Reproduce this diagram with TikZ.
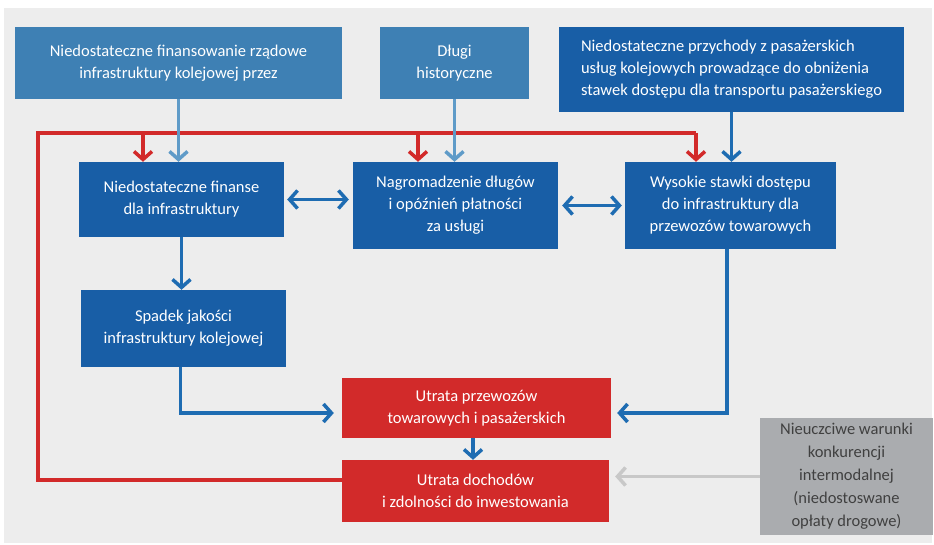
\documentclass[tikz,border=0pt]{standalone}
\usepackage{fontspec}
\setmainfont{Carlito}
\usepackage{tikz}
\usetikzlibrary{calc,arrows,arrows.meta}
\definecolor{bgcol}{RGB}{237,237,237}
\definecolor{lblue}{RGB}{62,128,180}
\definecolor{dblue}{RGB}{24,94,166}
\definecolor{rred}{RGB}{210,42,42}
\definecolor{gbox}{RGB}{170,172,175}
\definecolor{ablue}{RGB}{30,108,178}
\definecolor{alblue}{RGB}{95,155,200}
\definecolor{agrey}{RGB}{200,200,200}
\tikzset{
  box/.style={rectangle,inner sep=4pt,text=white,align=center,font=\fontsize{16.5}{22}\selectfont},
  tip/.style={-{Straight Barb[length=8pt,width=18pt]}},
  bline/.style={tip,draw=ablue,line width=3.5pt},
  lbline/.style={tip,draw=alblue,line width=3.5pt},
  rline/.style={draw=rred,line width=3.5pt}
}
\begin{document}
\begin{tikzpicture}[x=1pt,y=-1pt]
              \useasboundingbox (0,0) rectangle (934,545);
              \fill[bgcol] (4,8) rectangle (932,543);
              \node[box,fill=lblue,minimum width=327pt,minimum height=72pt](b1)at(178.5,63){Niedostateczne finansowanie rządowe\\infrastruktury kolejowej przez};
              \node[box,fill=lblue,minimum width=149pt,minimum height=72pt](b2)at(454.5,63){Długi\\historyczne};
              \node[box,fill=dblue,minimum width=345pt,minimum height=85pt,align=left](b3)at(731.5,69.5){Niedostateczne przychody z pasażerskich\\usług kolejowych prowadzące do obniżenia\\stawek dostępu dla transportu pasażerskiego};
              \node[box,fill=dblue,minimum width=205pt,minimum height=75pt](b4)at(181.5,199.5){Niedostateczne finanse\\dla infrastruktury};
              \node[box,fill=dblue,minimum width=205pt,minimum height=87pt](b5)at(455.5,205.5){Nagromadzenie długów\\i opóźnień płatności\\za usługi};
              \node[box,fill=dblue,minimum width=211pt,minimum height=87pt](b6)at(730.5,205.5){Wysokie stawki dostępu\\do infrastruktury dla\\przewozów towarowych};
              \node[box,fill=dblue,minimum width=205pt,minimum height=77pt](b7)at(183.5,328.5){Spadek jakości\\infrastruktury kolejowej};
              \node[box,fill=rred,minimum width=269pt,minimum height=60pt](b8)at(476.5,408){Utrata przewozów\\towarowych i pasażerskich};
              \node[box,fill=rred,minimum width=267pt,minimum height=62pt](b9)at(475.5,491){Utrata dochodów\\i zdolności do inwestowania};
              \node[box,fill=gbox,text=black!75,minimum width=173pt,minimum height=117pt,font=\fontsize{16.5}{23}\selectfont](b10)at(846.5,476.5){Nieuczciwe warunki\\konkurencji\\intermodalnej\\(niedostoswane\\opłaty drogowe)};
              \coordinate (loop) at (38,133);
              \draw[rline] ([yshift=11pt]b9.west) -| (loop) -| ([xshift=-34.5pt]b6.north |- loop);
              \draw[rline,tip] ([xshift=-34.5pt]b6.north |- loop) -- ([xshift=-34.5pt]b6.north);
              \draw[rline,tip] ([xshift=-38.5pt]b4.north |- loop) -- ([xshift=-38.5pt]b4.north);
              \draw[rline,tip] ([xshift=-37.5pt]b5.north |- loop) -- ([xshift=-37.5pt]b5.north);
              \draw[lbline] (b1.south) -- (b1.south |- b4.north);
              \draw[lbline] (b2.south) -- (b2.south |- b5.north);
              \draw[bline] (b3.south) -- (b3.south |- b6.north);
              \draw[bline,{Straight Barb[length=8pt,width=18pt]}-{Straight Barb[length=8pt,width=18pt]},shorten <=3pt,shorten >=4pt] (b4.east) -- (b4.east -| b5.west);
              \draw[bline,{Straight Barb[length=8pt,width=18pt]}-{Straight Barb[length=8pt,width=18pt]},shorten <=4pt,shorten >=3pt] (b5.east) -- (b5.east -| b6.west);
              \draw[bline] (b4.south) -- (b4.south |- b7.north);
              \draw[bline,shorten >=8pt] ([xshift=-3pt]b7.south) |- ([yshift=-5pt]b8.west);
              \draw[bline,shorten >=6pt] ([xshift=-3.5pt]b6.south) |- ([yshift=-5pt]b8.east);
              \draw[bline] ([xshift=-3.5pt]b8.south) -- ([xshift=-3.5pt]b8.south |- b9.north);
              \draw[tip,draw=agrey,line width=3.5pt,shorten >=6pt] (b10.west) -- (b10.west -| b9.east);
            \end{tikzpicture}
\end{document}
